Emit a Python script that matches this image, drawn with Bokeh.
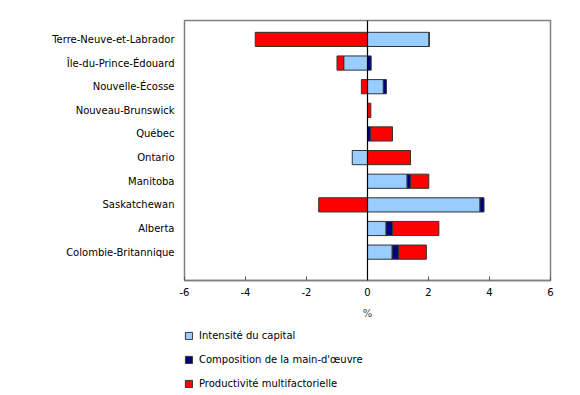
from bokeh.plotting import figure
from bokeh.models import Span, Legend, LegendItem, FixedTicker
from bokeh.layouts import column
from bokeh.embed import file_html
from bokeh.resources import INLINE

categories = ["Terre-Neuve-et-Labrador", "Île-du-Prince-Édouard", "Nouvelle-Écosse",
              "Nouveau-Brunswick", "Québec", "Ontario", "Manitoba", "Saskatchewan",
              "Alberta", "Colombie-Britannique"]
capital = [2.02, -0.78, 0.52, 0.0, 0.0, -0.5, 1.3, 3.69, 0.61, 0.81]
composition = [0.0, 0.12, 0.10, 0.0, 0.10, 0.0, 0.11, 0.13, 0.21, 0.21]
mfp = [-3.68, -0.22, -0.20, 0.11, 0.72, 1.41, 0.60, -1.60, 1.52, 0.91]
series_names = ["Intensité du capital", "Composition de la main-d'œuvre", "Productivité multifactorielle"]
series_colors = ["#99CCFF", "#000080", "#FF0000"]
x_ticks = [-6, -4, -2, 0, 2, 4, 6]
x_tick_labels = ["-6", "-4", "-2", "0", "2", "4", "6"]

FONT = "DejaVu Sans"
n = len(categories)
ypos = [n - 1 - i for i in range(n)]

p = figure(width=580, height=325, x_range=(-6, 6), y_range=(-1.2, 9.8),
           output_backend="svg", toolbar_location=None,
           min_border_left=184, min_border_right=30, min_border_top=20, min_border_bottom=45)
p.background_fill_color = "white"
p.border_fill_color = "white"
p.outline_line_color = "#808080"
p.outline_line_width = 1.5
p.grid.visible = False

pos_acc = [0.0] * n
neg_acc = [0.0] * n
segments = []
for vals, color in zip([capital, composition, mfp], series_colors):
    lefts, rights = [], []
    for i, v in enumerate(vals):
        if v >= 0:
            lefts.append(pos_acc[i]); rights.append(pos_acc[i] + v); pos_acc[i] += v
        else:
            rights.append(neg_acc[i]); lefts.append(neg_acc[i] + v); neg_acc[i] += v
    segments.append((lefts, rights))
    p.hbar(y=ypos, left=lefts, right=rights, height=0.6, fill_color=color,
           line_color="#333333", line_width=1)

p.add_layout(Span(location=0, dimension="height", line_color="black", line_width=1.2))

p.xaxis.ticker = FixedTicker(ticks=x_ticks)
p.xaxis.major_label_overrides = {t: s for t, s in zip(x_ticks, x_tick_labels)}
p.xaxis.axis_line_color = "#808080"
p.xaxis.axis_line_width = 1.5
p.xaxis.major_tick_in = 4
p.xaxis.major_tick_out = 0
p.xaxis.major_tick_line_color = "#555555"
p.xaxis.minor_tick_line_color = None
p.xaxis.major_label_standoff = 7
p.xaxis.major_label_text_font = FONT
p.xaxis.major_label_text_font_size = "10px"
p.xaxis.major_label_text_color = "black"
p.xaxis.axis_label = "%"
p.xaxis.axis_label_text_font = FONT
p.xaxis.axis_label_text_font_size = "10px"
p.xaxis.axis_label_text_font_style = "normal"
p.xaxis.axis_label_standoff = 9

p.yaxis.ticker = FixedTicker(ticks=ypos)
p.yaxis.major_label_overrides = {y: c for y, c in zip(ypos, categories)}
p.yaxis.axis_line_color = None
p.yaxis.major_tick_line_color = None
p.yaxis.minor_tick_line_color = None
p.yaxis.major_label_standoff = 4
p.yaxis.major_label_text_font = FONT
p.yaxis.major_label_text_font_size = "10px"
p.yaxis.major_label_text_color = "black"

# Legend panel below the chart (same series drawn out of view, only their legend shows)
lg = figure(width=580, height=70, x_range=(100, 101), y_range=(100, 101),
            output_backend="svg", toolbar_location=None,
            x_axis_location=None, y_axis_location=None,
            min_border_left=0, min_border_right=0, min_border_top=0, min_border_bottom=0)
lg.outline_line_color = None
lg.grid.visible = False
proxies = [lg.hbar(y=ypos, left=l, right=r, height=0.6, fill_color=c,
                   line_color="#333333", line_width=1)
           for (l, r), c in zip(segments, series_colors)]
legend = Legend(items=[LegendItem(label=nm, renderers=[r]) for nm, r in zip(series_names, proxies)],
                location=(0, 6), orientation="vertical",
                padding=0, margin=0, spacing=13, glyph_width=9, glyph_height=9,
                label_height=9, label_standoff=6, border_line_color=None,
                background_fill_alpha=0, label_text_font=FONT, label_text_font_size="10px",
                label_text_color="black")
lg.add_layout(legend, "center")

layout = column(p, lg, spacing=0)
open("out.html", "w").write(file_html(layout, INLINE))
